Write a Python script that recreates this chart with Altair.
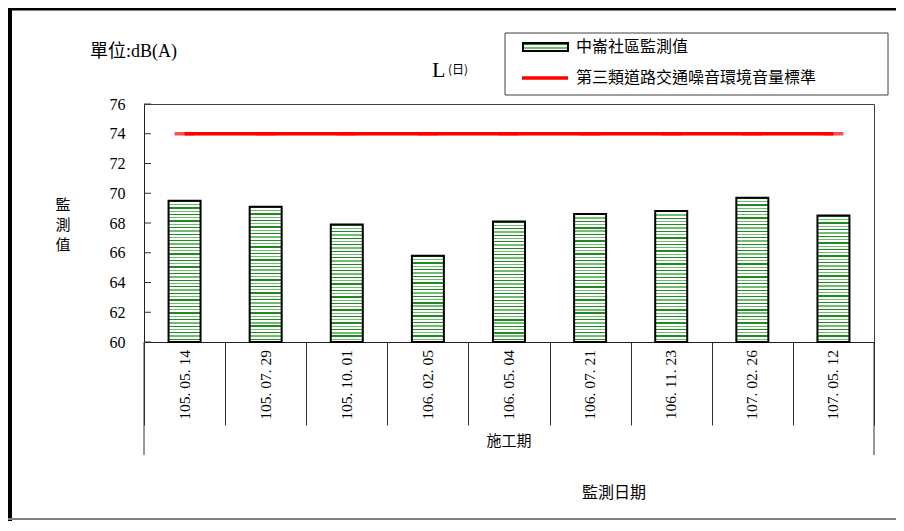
import altair as alt
import pandas as pd

# ---------------- data ----------------
categories = ["105. 05. 14", "105. 07. 29", "105. 10. 01", "106. 02. 05", "106. 05. 04",
              "106. 07. 21", "106. 11. 23", "107. 02. 26", "107. 05. 12"]
measured = [69.5, 69.1, 67.9, 65.8, 68.1, 68.6, 68.8, 69.7, 68.5]
standard = [74, 74, 74, 74, 74, 74, 74, 74, 74]
y_ticks = [60, 62, 64, 66, 68, 70, 72, 74, 76]
series_names = ["中崙社區監測值", "第三類道路交通噪音環境音量標準"]
group_label = ["施工期"]
x_title = ["監測日期"]
y_title = ["監測值"]
unit_label = ["單位:dB(A)"]
l_label = ["L"]
l_sub = ["(日)"]

df = pd.DataFrame({"date": categories, "value": measured, "std": standard})
tick_df = pd.DataFrame({"t": y_ticks})
one = tick_df.head(1)

W, H = 730, 238
Y0, Y1 = 60, 76
CJK = "Noto Sans CJK TC"
SERIF = "Liberation Serif, Noto Sans CJK TC"


def stripes(n):
    stops = []
    for i in range(n):
        c = "#1f8a1f" if i % 2 == 0 else "#6fbd6f"
        a, b, e = i / n, (i + 0.4) / n, (i + 1) / n
        stops += [alt.GradientStop(offset=a, color=c), alt.GradientStop(offset=b, color=c),
                  alt.GradientStop(offset=b, color="white"), alt.GradientStop(offset=e, color="white")]
    return alt.LinearGradient(gradient="linear", stops=stops, x1=0, x2=0, y1=0, y2=1)


xscale = alt.Scale(domain=categories, paddingInner=0, paddingOuter=0)
yscale = alt.Scale(domain=[Y0, Y1], nice=False, zero=False)
xaxis = alt.Axis(title=None, tickBand="extent", tickSize=83, tickColor="#303030",
                 labels=False, domainColor="#202020")
yaxis = alt.Axis(title=None, values=y_ticks, ticks=False, tickSize=0, labelPadding=19,
                 labelFont="Liberation Serif", labelFontSize=16, labelColor="black",
                 labelFlush=False, labelOverlap=False, grid=False, domainColor="#202020")


def X(field="date"):
    return alt.X(f"{field}:N", scale=xscale, sort=categories, axis=xaxis)


def Y(field):
    return alt.Y(f"{field}:Q", scale=yscale, axis=yaxis)


base = alt.Chart(df)

# one layer per bar so that the stripe pitch stays ~3px whatever the bar height
bar_layers = []
for cat, v in zip(categories, measured):
    n = max(2, round((v - Y0) / (Y1 - Y0) * H / 3.3))
    bar_layers.append(
        base.transform_filter(alt.datum.date == cat)
        .mark_bar(fill=stripes(n), stroke="black", strokeWidth=2, width=32)
        .encode(x=X(), y=Y("value"), y2=alt.Y2(datum=Y0))
    )

std_line = base.mark_line(color="#ff0000", strokeWidth=3.5).encode(x=X(), y=Y("std"))
std_ticks = base.mark_tick(color="#ff0000", thickness=3.5, size=20).encode(x=X(), y=Y("std"))

date_labels = base.mark_text(angle=270, align="right", baseline="middle", font="Liberation Serif",
                             fontSize=15.5, color="black").encode(
    x=X(), y=alt.value(H + 8), text="date:N")

inner_ticks = alt.Chart(tick_df).mark_rule(color="#303030", strokeWidth=1).encode(
    y=Y("t"), x=alt.value(0), x2=alt.value(7))

# long group separators at both ends of the category axis
long_l = alt.Chart(one).mark_rule(color="#303030").encode(
    x=alt.value(0), y=alt.value(H), y2=alt.value(H + 113))
long_r = alt.Chart(one).mark_rule(color="#303030").encode(
    x=alt.value(W), y=alt.value(H), y2=alt.value(H + 113))


def txt(values, x, y, size, font=CJK, align="left", baseline="middle", **kw):
    return alt.Chart(pd.DataFrame({"t": values})).mark_text(
        font=font, fontSize=size, align=align, baseline=baseline, color="black", **kw
    ).encode(text="t:N", x=alt.value(x), y=alt.value(y))


group_txt = txt(group_label, 365, 337, 15, align="center")
xtitle_txt = txt(x_title, 470, 389, 16, align="center")
ytitle_txt = alt.Chart(pd.DataFrame({"t": [list(y_title[0])]})).mark_text(
    font=CJK, fontSize=15, align="center", baseline="middle", lineHeight=20, color="black"
).encode(text="t", x=alt.value(-81), y=alt.value(101))
unit_txt = txt(unit_label, -54, -52, 18, font=SERIF)
l_txt = txt(l_label, 288, -27, 22, font="Liberation Serif", baseline="alphabetic")
lsub_txt = txt(l_sub, 304, -30, 12, font=CJK, baseline="alphabetic")

# legend
leg_box = alt.Chart(one).mark_rect(fill="white", stroke="#404040", strokeWidth=1).encode(
    x=alt.value(361), x2=alt.value(744), y=alt.value(-71), y2=alt.value(-9))
leg_sw1 = alt.Chart(one).mark_rect(fill=stripes(2), stroke="black", strokeWidth=2).encode(
    x=alt.value(379), x2=alt.value(424), y=alt.value(-61), y2=alt.value(-53))
leg_sw2 = alt.Chart(one).mark_rule(color="#ff0000", strokeWidth=3.5).encode(
    x=alt.value(378), x2=alt.value(424), y=alt.value(-26))
leg_t1 = txt([series_names[0]], 432, -57, 16)
leg_t2 = txt([series_names[1]], 432, -26, 16)

# outer frame (top, left, bottom)
frame_top = alt.Chart(one).mark_rule(color="black", strokeWidth=3).encode(
    x=alt.value(-140), x2=alt.value(W + 30), y=alt.value(-95))
frame_left = alt.Chart(one).mark_rule(color="black", strokeWidth=4).encode(
    x=alt.value(-134), y=alt.value(-100), y2=alt.value(H + 200))
frame_bottom = alt.Chart(one).mark_rule(color="#808080", strokeWidth=2).encode(
    x=alt.value(-136), x2=alt.value(W + 30), y=alt.value(H + 177))

chart = alt.layer(
    frame_top, frame_left, frame_bottom,
    std_line, std_ticks, *bar_layers, inner_ticks, date_labels, long_l, long_r,
    group_txt, xtitle_txt, ytitle_txt, unit_txt, l_txt, lsub_txt,
    leg_box, leg_sw1, leg_sw2, leg_t1, leg_t2,
).properties(
    width=W, height=H,
    autosize=alt.AutoSizeParams(type="none"),
    padding={"left": 136, "top": 96, "right": 22, "bottom": 179},
    background="white",
).configure_view(stroke="#404040", strokeWidth=1)

chart.save("out.html", embed_options={"renderer": "svg", "actions": False})
